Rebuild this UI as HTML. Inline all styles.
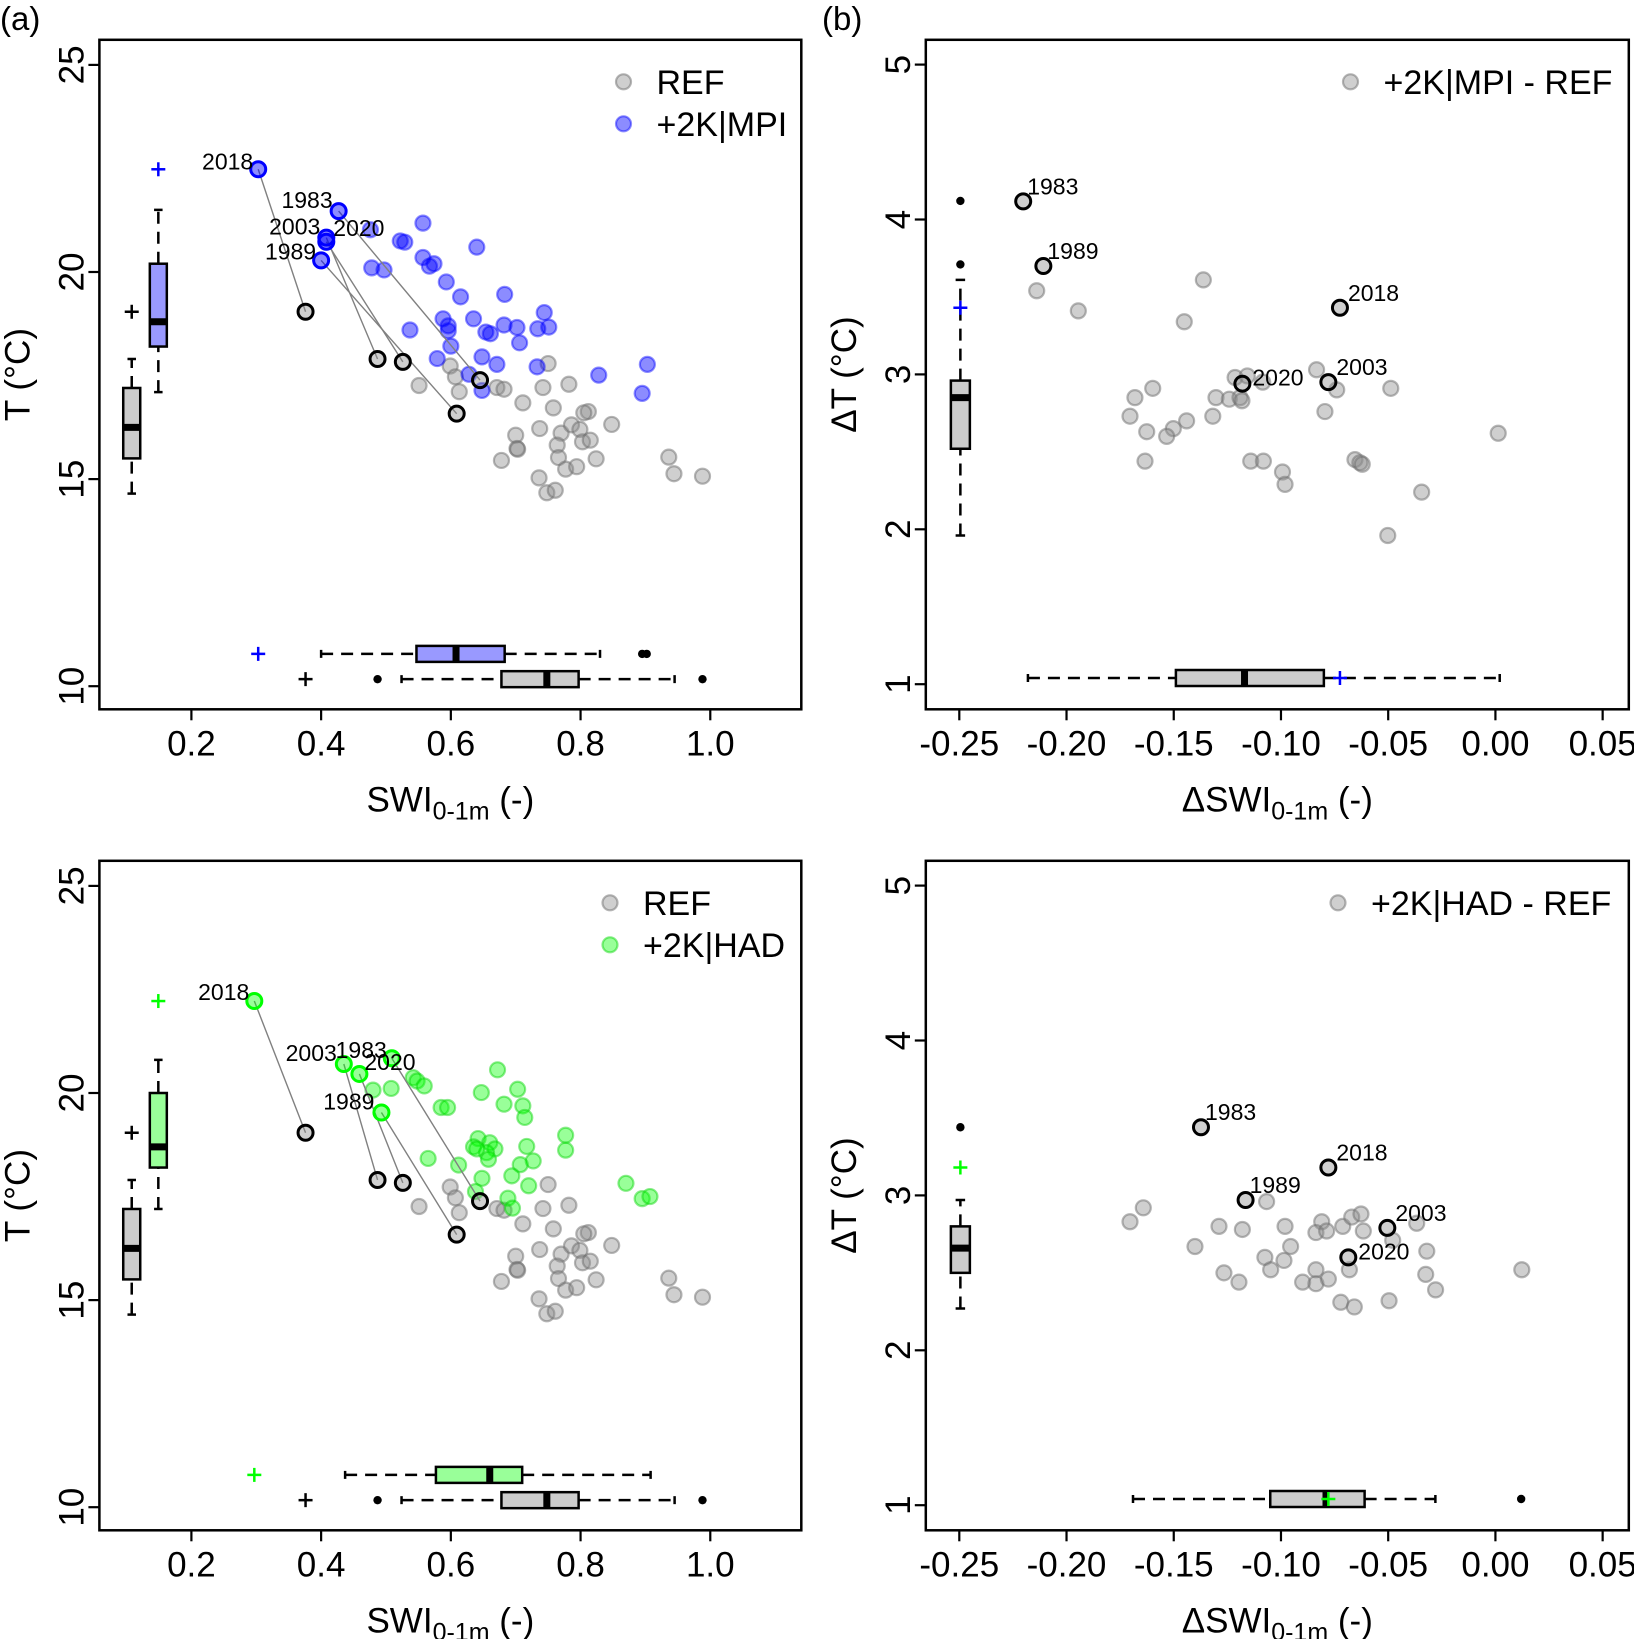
<!DOCTYPE html>
<html><head><meta charset="utf-8">
<style>
html,body{margin:0;padding:0;background:#fff;}
svg{display:block;font-family:"Liberation Sans",Arial,sans-serif;}
</style></head>
<body>
<svg id="fig" width="1634" height="1639" viewBox="0 0 1634 1639" xmlns="http://www.w3.org/2000/svg"></svg>
<script>
// ---------- DATA ----------
const years = ['1983','1989','2003','2018','2020'];
const refSWI = [0.551,0.599,0.607,0.613,0.671,0.682,0.750,0.742,0.782,0.711,0.758,0.812,0.805,0.848,0.737,0.700,0.702,0.703,0.770,0.786,0.799,0.803,0.815,0.764,0.766,0.824,0.678,0.777,0.794,0.736,0.748,0.761,0.936,0.944,0.988];
const refT   = [17.26,17.73,17.47,17.11,17.21,17.17,17.79,17.21,17.29,16.84,16.72,16.63,16.60,16.32,16.22,16.06,15.74,15.72,16.11,16.31,16.20,15.90,15.94,15.82,15.52,15.49,15.45,15.24,15.30,15.03,14.67,14.73,15.53,15.13,15.07];
const refHiSWI = [0.645,0.609,0.487,0.376,0.526];
const refHiT   = [17.39,16.58,17.90,19.04,17.83];
const mpiSWI = [0.557,0.529,0.522,0.640,0.557,0.567,0.574,0.593,0.615,0.683,0.744,0.588,0.596,0.596,0.635,0.654,0.661,0.682,0.702,0.734,0.751,0.706,0.537,0.600,0.579,0.648,0.671,0.628,0.648,0.733,0.828,0.903,0.895,0.476,0.478,0.497];
const mpiT   = [21.18,20.72,20.75,20.60,20.35,20.14,20.20,19.76,19.40,19.46,19.02,18.87,18.70,18.58,18.87,18.55,18.51,18.72,18.66,18.63,18.67,18.29,18.60,18.21,17.91,17.95,17.77,17.53,17.14,17.71,17.51,17.77,17.07,21.02,20.10,20.05];
const mpiHiSWI = [0.427,0.400,0.408,0.303,0.408];
const mpiHiT   = [21.47,20.28,20.83,22.48,20.73];
const hadSWI = [0.480,0.508,0.542,0.548,0.559,0.585,0.595,0.672,0.647,0.703,0.682,0.711,0.714,0.777,0.777,0.565,0.612,0.642,0.635,0.660,0.668,0.655,0.658,0.640,0.717,0.727,0.707,0.694,0.720,0.648,0.638,0.688,0.695,0.870,0.895,0.907];
const hadT   = [20.07,20.11,20.37,20.29,20.17,19.65,19.65,20.56,20.01,20.09,19.73,19.69,19.41,18.98,18.62,18.42,18.26,18.90,18.70,18.80,18.65,18.56,18.40,18.65,18.71,18.36,18.27,18.00,17.76,17.94,17.62,17.46,17.22,17.82,17.45,17.50];
const hadHiSWI = [0.509,0.493,0.435,0.297,0.459];
const hadHiT   = [20.84,19.53,20.70,22.22,20.46];
const dMpiSWI = [-0.2139,-0.1945,-0.1362,-0.1451,-0.0834,-0.0740,-0.0488,-0.1214,-0.1157,-0.1085,-0.1303,-0.1241,-0.1191,-0.1182,-0.1598,-0.1681,-0.1704,-0.1318,-0.1440,-0.1502,-0.1533,-0.1626,-0.1634,-0.0795,0.0013,-0.1141,-0.1082,-0.0993,-0.0981,-0.0655,-0.0632,-0.0621,-0.0344,-0.0502];
const dMpiT   = [3.54,3.41,3.61,3.34,3.03,2.90,2.91,2.98,2.99,2.95,2.85,2.84,2.85,2.83,2.91,2.85,2.73,2.73,2.70,2.65,2.60,2.63,2.44,2.76,2.62,2.44,2.44,2.37,2.29,2.45,2.43,2.42,2.24,1.96];
const dMpiHiSWI = [-0.2202,-0.2108,-0.0779,-0.0725,-0.1180];
const dMpiHiT   = [4.117,3.70,2.95,3.43,2.94];
const dHadSWI = [-0.1642,-0.1704,-0.1067,-0.1289,-0.1180,-0.0981,-0.0810,-0.0837,-0.0787,-0.0712,-0.0670,-0.0627,-0.0616,-0.0367,-0.0479,-0.0320,-0.1401,-0.0955,-0.1075,-0.0986,-0.1048,-0.1266,-0.1196,-0.0837,-0.0899,-0.0837,-0.0779,-0.0681,-0.0325,-0.0279,0.0123,-0.0721,-0.0658,-0.0496];
const dHadT   = [2.92,2.83,2.96,2.80,2.78,2.80,2.83,2.76,2.77,2.80,2.86,2.88,2.77,2.82,2.71,2.64,2.67,2.67,2.60,2.58,2.52,2.50,2.44,2.52,2.44,2.43,2.46,2.52,2.49,2.39,2.52,2.31,2.28,2.32];
const dHadHiSWI = [-0.1373,-0.1165,-0.0504,-0.0779,-0.0686];
const dHadHiT   = [3.44,2.97,2.79,3.18,2.60];
const boxRefT   = [14.65,15.5,16.25,17.2,17.9];
const boxMpiT   = [17.1,18.2,18.8,20.2,21.5];
const boxHadT   = [17.2,18.2,18.7,20.0,20.8];
const boxRefSWI = [0.524,0.678,0.748,0.797,0.945];
const boxMpiSWI = [0.40,0.547,0.608,0.683,0.83];
const boxHadSWI = [0.437,0.577,0.66,0.71,0.908];
const outRefSWI = [0.487,0.988];
const outMpiSWI = [0.895,0.902];
const outHadSWI = [];
const bMpiDT = [1.96,2.52,2.85,2.96,3.61];
const bMpiDS = [-0.218,-0.149,-0.117,-0.080,0.002];
const outMpiDT = [3.71,4.12];
const outMpiDS = [];
const bHadDT = [2.27,2.50,2.66,2.80,2.97];
const bHadDS = [-0.169,-0.105,-0.079,-0.061,-0.028];
const outHadDT = [3.44];
const outHadDS = [0.012];
const plusRefT = 19.04, plusRefS = 0.376;
const plusMpiT = 22.48, plusMpiS = 0.303;
const plusHadT = 22.22, plusHadS = 0.297;
const plusDMpiT = 3.43, plusDMpiS = -0.0725;
const plusDHadT = 3.18, plusDHadS = -0.0779;
const xTicksA = [0.2,0.4,0.6,0.8,1.0];
const xTickLabA = ['0.2','0.4','0.6','0.8','1.0'];
const yTicksA = [10,15,20,25];
const xTicksB = [-0.25,-0.20,-0.15,-0.10,-0.05,0.00,0.05];
const xTickLabB = ['-0.25','-0.20','-0.15','-0.10','-0.05','0.00','0.05'];
const yTicksB = [1,2,3,4,5];

// ---------- DRAW ----------
const NS='http://www.w3.org/2000/svg';
const svg=document.getElementById('fig');
const DASH='12,8';
function mk(tag,attrs,parent){const e=document.createElementNS(NS,tag);for(const k in attrs)e.setAttribute(k,attrs[k]);(parent||svg).appendChild(e);return e;}
function txt(s,attrs,parent){const e=mk('text',attrs,parent);e.textContent=s;return e;}

function panel(o){
  const g=mk('g',{});
  
  
  const X=v=>o.x0+(v-o.xv0)*o.xs, Y=v=>o.y0-(v-o.yv0)*o.ys;
  o.xt.forEach((v,i)=>{
    mk('line',{x1:X(v),x2:X(v),y1:o.bot,y2:o.bot+11,stroke:'#000','stroke-width':2.2},g);
    const t=txt(o.xl[i],{x:X(v),y:o.bot+46,'font-size':35,'text-anchor':'middle'},g);
    
    
  });
  o.yt.forEach(v=>{
    mk('line',{x1:o.left,x2:o.left-11,y1:Y(v),y2:Y(v),stroke:'#000','stroke-width':2.2},g);
    const t=txt(String(v),{x:0,y:0,'font-size':35,'text-anchor':'middle',transform:`translate(${o.left-16},${Y(v)}) rotate(-90)`},g);
    
    
  });
  const yt=txt(o.ytitle,{x:0,y:0,'font-size':35,'text-anchor':'middle',transform:`translate(${o.left-70},${(o.top+o.bot)/2}) rotate(-90)`},g);
  
  
  const xt=mk('text',{x:(o.left+o.right)/2,y:o.bot+102,'font-size':35,'text-anchor':'middle'},g);
  xt.innerHTML=o.xtitle+'SWI<tspan font-size="25" dy="8">0-1m</tspan><tspan dy="-8"> (-)</tspan>';
  
  
  const cid='c'+o.name;
  const cp=mk('clipPath',{id:cid},g);mk('rect',{x:o.left,y:o.top,width:o.right-o.left,height:o.bot-o.top},cp);
  const pg=mk('g',{'clip-path':`url(#${cid})`},g);
  const dot=(xs,ys,fill,stroke,name)=>xs.forEach((v,i)=>{
    const c=mk('circle',{cx:X(v),cy:Y(ys[i]),r:7.5,fill:fill,stroke:stroke,'stroke-width':2.2},pg);
    
    
  });
  o.series.forEach(s=>dot(s.x,s.y,s.fill,s.stroke,s.name));
  if(o.links) o.links.a.x.forEach((v,i)=>{
    mk('line',{x1:X(v),y1:Y(o.links.a.y[i]),x2:X(o.links.b.x[i]),y2:Y(o.links.b.y[i]),stroke:'#808080','stroke-width':1.4},pg);
  });
  o.hi.forEach(h=>h.x.forEach((v,i)=>{
    const c=mk('circle',{cx:X(v),cy:Y(h.y[i]),r:7.5,fill:h.fill,stroke:h.stroke,'stroke-width':3},pg);
    
    
  }));
  o.labels.x.forEach((v,i)=>{
    const off=o.labels.off[i];
    const t=txt(years[i],{x:X(v)+off[0],y:Y(o.labels.y[i])+off[1],'font-size':23,'text-anchor':off[2]},pg);
    
    
  });
  const plus=(cx,cy,col)=>{mk('line',{x1:cx-7,x2:cx+7,y1:cy,y2:cy,stroke:col,'stroke-width':2.5},pg);mk('line',{x1:cx,x2:cx,y1:cy-7,y2:cy+7,stroke:col,'stroke-width':2.5},pg);};
  o.vbox.forEach(b=>{
    const cx=X(b.pos),hw=b.hw;
    mk('line',{x1:cx,x2:cx,y1:Y(b.s[0]),y2:Y(b.s[1]),stroke:'#000','stroke-width':2.5,'stroke-dasharray':DASH},pg);
    mk('line',{x1:cx,x2:cx,y1:Y(b.s[3]),y2:Y(b.s[4]),stroke:'#000','stroke-width':2.5,'stroke-dasharray':DASH},pg);
    [0,4].forEach(k=>mk('line',{x1:cx-hw/2,x2:cx+hw/2,y1:Y(b.s[k]),y2:Y(b.s[k]),stroke:'#000','stroke-width':2.5},pg));
    const r=mk('rect',{x:cx-hw,y:Y(b.s[3]),width:2*hw,height:Y(b.s[1])-Y(b.s[3]),fill:b.fill,stroke:'#000','stroke-width':2.5},pg);
    
    
    mk('line',{x1:cx-hw,x2:cx+hw,y1:Y(b.s[2]),y2:Y(b.s[2]),stroke:'#000','stroke-width':7},pg);
    b.out.forEach(v=>mk('circle',{cx:cx,cy:Y(v),r:4.2,fill:'#000'},pg));
    if(b.plus!=null) plus(cx,Y(b.plus),b.pc);
  });
  o.hbox.forEach(b=>{
    const cy=Y(b.pos),hh=b.hw;
    mk('line',{y1:cy,y2:cy,x1:X(b.s[0]),x2:X(b.s[1]),stroke:'#000','stroke-width':2.5,'stroke-dasharray':DASH},pg);
    mk('line',{y1:cy,y2:cy,x1:X(b.s[3]),x2:X(b.s[4]),stroke:'#000','stroke-width':2.5,'stroke-dasharray':DASH},pg);
    [0,4].forEach(k=>mk('line',{y1:cy-hh/2,y2:cy+hh/2,x1:X(b.s[k]),x2:X(b.s[k]),stroke:'#000','stroke-width':2.5},pg));
    const r=mk('rect',{y:cy-hh,x:X(b.s[1]),height:2*hh,width:X(b.s[3])-X(b.s[1]),fill:b.fill,stroke:'#000','stroke-width':2.5},pg);
    
    
    mk('line',{y1:cy-hh,y2:cy+hh,x1:X(b.s[2]),x2:X(b.s[2]),stroke:'#000','stroke-width':7},pg);
    b.out.forEach(v=>mk('circle',{cx:X(v),cy:cy,r:4.2,fill:'#000'},pg));
    if(b.plus!=null) plus(X(b.plus),cy,b.pc);
  });
  o.legend.forEach((l,i)=>{
    const lg=mk('g',{},g);
    
    
    mk('circle',{cx:o.legX,cy:o.legY+i*42,r:7.5,fill:l.fill,stroke:l.stroke,'stroke-width':2.2},lg);
    txt(l.t,{x:o.legX+33,y:o.legY+i*42+12,'font-size':34},lg);
  });
  mk('rect',{x:o.left,y:o.top,width:o.right-o.left,height:o.bot-o.top,fill:'none',stroke:'#000','stroke-width':2.5},g);
}

const GF='rgba(140,140,140,0.42)',GS='rgba(110,110,110,0.5)';
const BF='rgba(0,0,255,0.45)',BS='rgba(0,0,255,0.45)';
const HF='rgba(0,255,0,0.4)',HS='rgba(0,210,0,0.45)';
const offA1=[[-6,-3,'end'],[-5,-1,'end'],[-6,-3,'end'],[-5,0,'end'],[7,-6,'start']];
const offA2=[[-5,0,'end'],[-7,-3,'end'],[-7,-3,'end'],[-5,-1,'end'],[5,-4,'start']];
const offB=[[4,-7,'start'],[4,-7,'start'],[8,-7,'start'],[8,-7,'start'],[10,2,'start']];

function panelA(name,top,fut,futHiX,futHiY,col,colS,solid,boxF,boxS,outS,plusT,plusS,legName){
  const y0=top+646.4;
  panel({name,left:99.4,right:801.3,top,bot:top+669.5,x0:191.4,xv0:0.2,xs:648.6,y0,yv0:10,ys:41.42,
    xt:xTicksA,xl:xTickLabA,yt:yTicksA,ytitle:'T (°C)',xtitle:'',
    series:[{x:refSWI,y:refT,fill:GF,stroke:GS,name:'ref-point'},{x:fut[0],y:fut[1],fill:col,stroke:colS,name:'future-point'}],
    links:{a:{x:refHiSWI,y:refHiT},b:{x:futHiX,y:futHiY}},
    hi:[{x:refHiSWI,y:refHiT,fill:GF,stroke:'#000'},{x:futHiX,y:futHiY,fill:col,stroke:solid}],
    labels:{x:futHiX,y:futHiY,off:top<100?offA1:offA2},
    vbox:[{pos:0.108,hw:8.5,s:boxRefT,fill:'#cccccc',out:[],plus:plusRefT,pc:'#000',name:'ref-t-boxplot'},
          {pos:0.149,hw:8.5,s:boxF,fill:solid==='#0000ff'?'#9999ff':'#99ff99',out:[],plus:plusT,pc:solid,name:'future-t-boxplot'}],
    hbox:[{pos:10.78,hw:8,s:boxS,fill:solid==='#0000ff'?'#9999ff':'#99ff99',out:outS,plus:plusS,pc:solid,name:'future-swi-boxplot'},
          {pos:10.17,hw:8,s:boxRefSWI,fill:'#cccccc',out:outRefSWI,plus:plusRefS,pc:'#000',name:'ref-swi-boxplot'}],
    legX:top<100?623.5:610,legY:top+42,legend:[{t:'REF',fill:GF,stroke:GS},{t:legName,fill:col,stroke:colS}]});
}
panelA('panel-a-mpi',39.8,[mpiSWI,mpiT],mpiHiSWI,mpiHiT,BF,BS,'#0000ff',boxMpiT,boxMpiSWI,outMpiSWI,plusMpiT,plusMpiS,'+2K|MPI');
panelA('panel-a-had',860.8,[hadSWI,hadT],hadHiSWI,hadHiT,HF,HS,'#00ff00',boxHadT,boxHadSWI,outHadSWI,plusHadT,plusHadS,'+2K|HAD');

function panelB(name,top,dx,dy,hx,hy,bT,bS,oT,oS,pT,pS,pc,legName,legX){
  panel({name,left:925.8,right:1628.8,top,bot:top+669.5,x0:959.3,xv0:-0.25,xs:2144.5,y0:top+644.4,yv0:1,ys:154.9,
    xt:xTicksB,xl:xTickLabB,yt:yTicksB,ytitle:'ΔT (°C)',xtitle:'Δ',
    series:[{x:dx,y:dy,fill:GF,stroke:GS,name:'delta-point'}],
    links:null,hi:[{x:hx,y:hy,fill:GF,stroke:'#000'}],
    labels:{x:hx,y:hy,off:offB},
    vbox:[{pos:-0.2495,hw:9.5,s:bT,fill:'#cccccc',out:oT,plus:pT,pc:pc,name:'delta-t-boxplot'}],
    hbox:[{pos:1.04,hw:8,s:bS,fill:'#cccccc',out:oS,plus:pS,pc:pc,name:'delta-swi-boxplot'}],
    legX:legX,legY:top+42,legend:[{t:legName,fill:GF,stroke:GS}]});
}
panelB('panel-b-mpi',39.8,dMpiSWI,dMpiT,dMpiHiSWI,dMpiHiT,bMpiDT,bMpiDS,outMpiDT,outMpiDS,plusDMpiT,plusDMpiS,'#0000ff','+2K|MPI - REF',1350.5);
panelB('panel-b-had',860.8,dHadSWI,dHadT,dHadHiSWI,dHadHiT,bHadDT,bHadDS,outHadDT,outHadDS,plusDHadT,plusDHadS,'#00ff00','+2K|HAD - REF',1338);

const pa=txt('(a)',{x:0,y:30,'font-size':33});


const pb=txt('(b)',{x:822,y:30,'font-size':33});


</script>
</body></html>
